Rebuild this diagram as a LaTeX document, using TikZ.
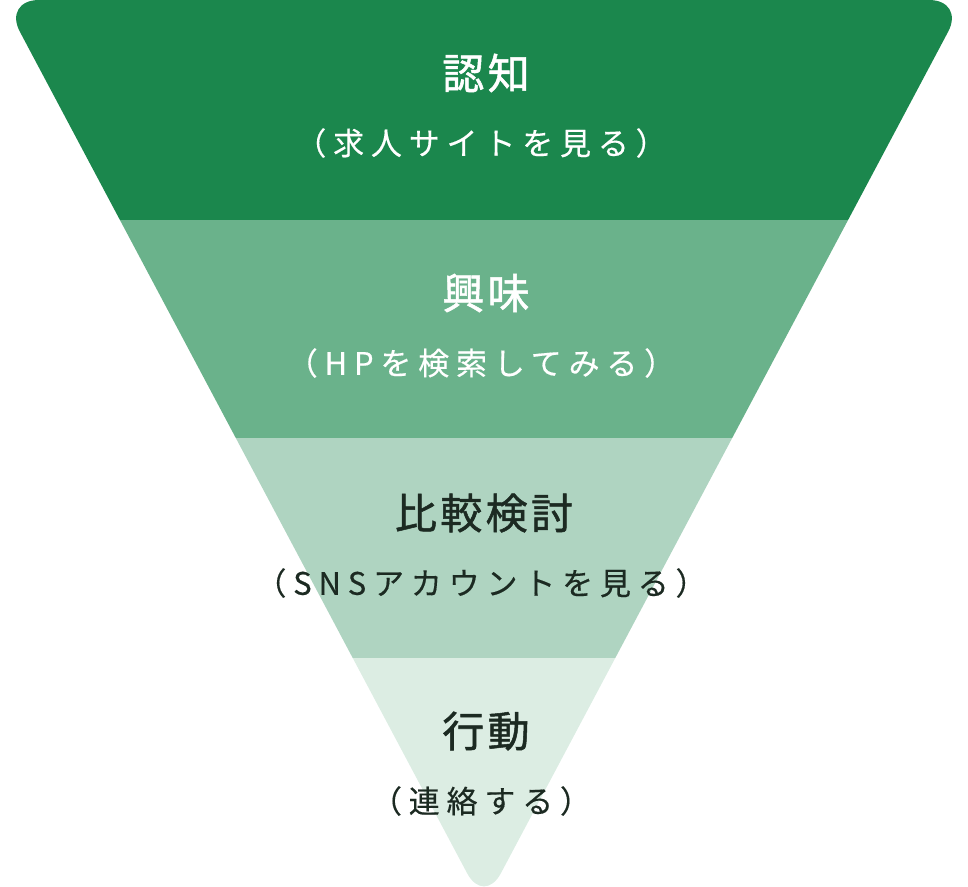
\documentclass[tikz,border=0pt]{standalone}
\usepackage{fontspec}
\usepackage{tikz}
\usetikzlibrary{positioning}
\newfontfamily\jptitle{Noto Sans CJK JP}[LetterSpace=8, FakeBold=1.2]
\newfontfamily\jpsub{Noto Sans CJK JP}[LetterSpace=22, FakeBold=0.4]
\definecolor{stageA}{HTML}{1B874D}
\definecolor{stageB}{HTML}{6AB28B}
\definecolor{stageC}{HTML}{AFD4C1}
\definecolor{stageD}{HTML}{DCEDE3}
\definecolor{inkdark}{HTML}{1C2A22}

\begin{document}
\begin{tikzpicture}[x=1pt, y=-1pt,
    title/.style={font=\jptitle\fontsize{42}{46}\selectfont, inner sep=0pt},
    sub/.style={font=\jpsub\fontsize{31}{34}\selectfont, inner sep=0pt}]
    \useasboundingbox (0,0) rectangle (968,886);
    \begin{scope}
        \clip[rounded corners=36] (3,0) -- (965,0) -- (484,905) -- cycle;
        \fill[stageA] (0,0) rectangle (968,220);
        \fill[stageB] (0,220) rectangle (968,438);
        \fill[stageC] (0,438) rectangle (968,658);
        \fill[stageD] (0,658) rectangle (968,900);
    \end{scope}
    \node[title, white] (ninchi) at (486,73) {認知};
    \node[sub, white] (ninchisub) at (481,143) {（求人サイトを見る）};
    \node[title, white] (kyomi) at (486,293) {興味};
    \node[sub, white] (kyomisub) at (481,363) {（HPを検索してみる）};
    \node[title, inkdark] (hikaku) at (484,513) {比較検討};
    \node[sub, inkdark] (hikakusub) at (481,583) {（SNSアカウントを見る）};
    \node[title, inkdark] (kodo) at (486,731) {行動};
    \node[sub, inkdark] (kodosub) at (481,801) {（連絡する）};
\end{tikzpicture}
\end{document}
